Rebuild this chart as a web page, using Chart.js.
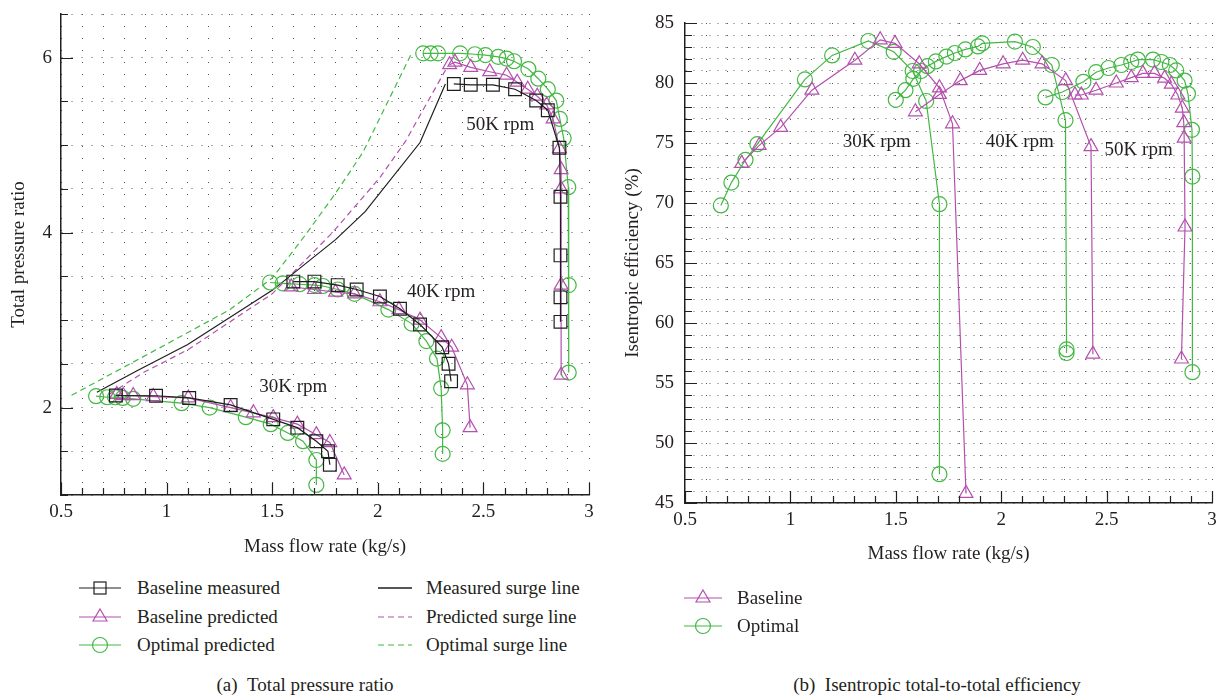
<!DOCTYPE html>
<html>
<head>
<meta charset="utf-8">
<script src="https://cdn.jsdelivr.net/npm/chart.js@4.4.1/dist/chart.umd.min.js"></script>
<style>
  body { margin: 0; background: #fff; }
  #page { position: relative; width: 1224px; height: 697px; overflow: hidden;
          font-family: "Liberation Serif", "DejaVu Serif", serif; color: #231f20; }
  #pr { position: absolute; left: 0; top: 0; }
  #eff { position: absolute; left: 610px; top: 0; }
  .row { position: absolute; height: 30px; line-height: 30px; font-size: 19px; white-space: nowrap; }
  .row svg { position: absolute; top: 0; }
  .cap { position: absolute; font-size: 19px; white-space: nowrap; transform: translate(-50%, -50%); }
</style>
</head>
<body>
<div id="page">
  <canvas id="pr" width="610" height="570"></canvas>
  <canvas id="eff" width="614" height="600"></canvas>

  <div class="row" style="left:79px;top:573px">
    <svg width="42" height="30"><line x1="0" y1="15" x2="42" y2="15" stroke="#1e1e1e" stroke-width="1.2"/><rect x="15" y="9" width="12" height="12" fill="none" stroke="#1e1e1e" stroke-width="1.2"/></svg>
    <span style="margin-left:58px">Baseline measured</span></div>
  <div class="row" style="left:79px;top:602px">
    <svg width="42" height="30"><line x1="0" y1="15" x2="42" y2="15" stroke="#b54fae" stroke-width="1.2"/><polygon points="21,7 28,19 14,19" fill="none" stroke="#b54fae" stroke-width="1.2"/></svg>
    <span style="margin-left:58px">Baseline predicted</span></div>
  <div class="row" style="left:79px;top:630px">
    <svg width="42" height="30"><line x1="0" y1="15" x2="42" y2="15" stroke="#43b843" stroke-width="1.2"/><circle cx="21" cy="15" r="7.5" fill="none" stroke="#43b843" stroke-width="1.2"/></svg>
    <span style="margin-left:58px">Optimal predicted</span></div>

  <div class="row" style="left:378px;top:573px">
    <svg width="34" height="30"><line x1="0" y1="15" x2="34" y2="15" stroke="#1e1e1e" stroke-width="1.4"/></svg>
    <span style="margin-left:48px">Measured surge line</span></div>
  <div class="row" style="left:378px;top:602px">
    <svg width="34" height="30"><line x1="0" y1="15" x2="34" y2="15" stroke="#b54fae" stroke-width="1.2" stroke-dasharray="6,4"/></svg>
    <span style="margin-left:48px">Predicted surge line</span></div>
  <div class="row" style="left:378px;top:630px">
    <svg width="34" height="30"><line x1="0" y1="15" x2="34" y2="15" stroke="#43b843" stroke-width="1.2" stroke-dasharray="6,4"/></svg>
    <span style="margin-left:48px">Optimal surge line</span></div>

  <div class="row" style="left:684px;top:583px">
    <svg width="38" height="30"><line x1="0" y1="15" x2="38" y2="15" stroke="#b54fae" stroke-width="1.2"/><polygon points="19,7 26,19 12,19" fill="none" stroke="#b54fae" stroke-width="1.2"/></svg>
    <span style="margin-left:53px">Baseline</span></div>
  <div class="row" style="left:684px;top:611px">
    <svg width="38" height="30"><line x1="0" y1="15" x2="38" y2="15" stroke="#43b843" stroke-width="1.2"/><circle cx="19" cy="15" r="7.5" fill="none" stroke="#43b843" stroke-width="1.2"/></svg>
    <span style="margin-left:53px">Optimal</span></div>

  <div class="cap" style="left:305px;top:685px">(a)&nbsp;&nbsp;Total pressure ratio</div>
  <div class="cap" style="left:937px;top:685px">(b)&nbsp;&nbsp;Isentropic total-to-total efficiency</div>
</div>

<script>
var FONT = '"Liberation Serif", "DejaVu Serif", serif';
var INK = '#231f20';
var BLACK = '#1e1e1e', MAGENTA = '#b54fae', GREEN = '#43b843';

// (a) total pressure ratio, points are [mass flow (kg/s), ratio]
var measured30 = [[0.76, 2.137], [0.95, 2.135], [1.107, 2.11], [1.303, 2.03], [1.505, 1.865],
  [1.619, 1.77], [1.709, 1.615], [1.764, 1.50], [1.773, 1.346]];
var measured40 = [[1.60, 3.44], [1.70, 3.44], [1.81, 3.40], [1.90, 3.35], [2.01, 3.27],
  [2.105, 3.13], [2.20, 2.95], [2.305, 2.69], [2.335, 2.50], [2.347, 2.30]];
var measured50 = [[2.36, 5.70], [2.44, 5.69], [2.545, 5.69], [2.65, 5.64], [2.75, 5.51],
  [2.805, 5.40], [2.86, 4.97], [2.865, 4.41], [2.865, 3.74], [2.865, 3.26], [2.865, 2.98]];

var predicted30 = [[0.764, 2.149], [0.795, 2.137], [0.842, 2.137], [0.937, 2.126], [1.103, 2.11],
  [1.303, 2.0], [1.411, 1.94], [1.505, 1.885], [1.619, 1.81], [1.709, 1.69], [1.773, 1.60], [1.841, 1.23]];
var predicted40 = [[1.59, 3.38], [1.70, 3.35], [1.80, 3.32], [1.89, 3.30], [2.01, 3.21],
  [2.10, 3.12], [2.20, 3.00], [2.30, 2.80], [2.35, 2.69], [2.424, 2.26], [2.437, 1.77]];
var predicted50 = [[2.34, 5.92], [2.365, 5.95], [2.44, 5.89], [2.53, 5.84], [2.61, 5.80], [2.66, 5.72],
  [2.71, 5.64], [2.755, 5.56], [2.80, 5.46], [2.83, 5.30], [2.86, 4.96], [2.868, 4.72],
  [2.868, 4.50], [2.868, 3.40], [2.868, 2.37]];

var optimal30 = [[0.666, 2.13], [0.719, 2.118], [0.756, 2.118], [0.792, 2.11], [0.842, 2.10],
  [1.071, 2.05], [1.204, 2.0], [1.375, 1.89], [1.493, 1.81], [1.574, 1.71], [1.646, 1.615],
  [1.709, 1.40], [1.709, 1.115]];
var optimal40 = [[1.49, 3.43], [1.55, 3.42], [1.63, 3.41], [1.70, 3.40], [1.74, 3.39], [1.81, 3.35],
  [1.89, 3.30], [2.05, 3.12], [2.16, 2.96], [2.23, 2.76], [2.28, 2.56], [2.30, 2.22],
  [2.307, 1.74], [2.307, 1.47]];
var optimal50 = [[2.215, 6.05], [2.25, 6.05], [2.285, 6.05], [2.39, 6.05], [2.46, 6.04], [2.51, 6.03],
  [2.57, 6.01], [2.61, 5.99], [2.645, 5.96], [2.713, 5.87], [2.76, 5.76], [2.805, 5.64],
  [2.845, 5.51], [2.862, 5.30], [2.88, 5.08], [2.902, 4.52], [2.904, 3.40], [2.904, 2.40]];

var surgeMeasured = [[0.67, 2.175], [0.86, 2.42], [1.1, 2.72], [1.5, 3.34], [1.80, 3.92],
  [1.94, 4.24], [2.20, 5.03], [2.32, 5.70]];
var surgePredicted = [[0.73, 2.155], [0.89, 2.40], [1.1, 2.66], [1.5, 3.30], [1.785, 4.0],
  [2.01, 4.63], [2.13, 5.04], [2.33, 5.90]];
var surgeOptimal = [[0.55, 2.14], [0.95, 2.66], [1.3, 3.12], [1.5, 3.48], [1.65, 3.95],
  [1.80, 4.45], [1.93, 4.92], [2.16, 6.05]];

// (b) isentropic efficiency, points are [mass flow (kg/s), %]
var effBase30 = [[0.769, 73.3], [0.852, 74.8], [0.954, 76.3], [1.102, 79.4], [1.306, 81.9],
  [1.426, 83.6], [1.496, 83.3], [1.611, 81.6], [1.707, 79.6], [1.769, 76.6], [1.833, 45.8]];
var effBase40 = [[1.593, 77.6], [1.707, 79.05], [1.806, 80.2], [1.898, 81.05], [2.009, 81.6],
  [2.102, 81.9], [2.194, 81.6], [2.306, 80.2], [2.426, 74.7], [2.435, 57.4]];
var effBase50 = [[2.35, 79.0], [2.38, 79.0], [2.45, 79.4], [2.546, 80.0], [2.617, 80.45],
  [2.672, 80.8], [2.727, 80.8], [2.775, 80.4], [2.807, 79.9], [2.838, 79.0], [2.859, 77.9],
  [2.866, 76.7], [2.868, 75.4], [2.872, 68.0], [2.855, 57.0]];

var effOpt30 = [[0.67, 69.8], [0.72, 71.7], [0.787, 73.6], [0.843, 74.9], [1.069, 80.3],
  [1.198, 82.3], [1.37, 83.5], [1.49, 82.6], [1.58, 81.0], [1.644, 78.5], [1.707, 69.9], [1.707, 47.4]];
var effOpt40 = [[1.50, 78.6], [1.546, 79.4], [1.583, 80.35], [1.62, 81.0], [1.65, 81.4], [1.69, 81.8],
  [1.74, 82.2], [1.78, 82.5], [1.83, 82.8], [1.89, 83.05], [1.91, 83.3], [2.065, 83.45],
  [2.15, 83.0], [2.24, 81.5], [2.305, 76.9], [2.31, 57.8], [2.31, 57.5]];
var effOpt50 = [[2.21, 78.8], [2.29, 79.25], [2.39, 80.1], [2.45, 80.9], [2.509, 81.25],
  [2.57, 81.5], [2.617, 81.75], [2.648, 81.95], [2.72, 81.95], [2.76, 81.75], [2.80, 81.5],
  [2.83, 81.05], [2.87, 80.2], [2.886, 79.1], [2.905, 76.1], [2.907, 72.2], [2.907, 55.9]];

var massTickLabels = [0.5, 1, 1.5, 2, 2.5, 3];
var ratioTickLabels = [2, 4, 6];
var effTickLabels = [45, 50, 55, 60, 65, 70, 75, 80, 85];
var speedNames = ['30K rpm', '40K rpm', '50K rpm'];

function xy(pts) {
  return pts.map(function (p) { return {x: p[0], y: p[1]}; });
}

function series(pts, color, shape, radius, dash) {
  return {
    data: xy(pts),
    showLine: true,
    borderColor: color,
    borderWidth: 1.2,
    borderDash: dash || [],
    pointStyle: shape || 'circle',
    pointRadius: shape ? radius : 0,
    pointBorderColor: color,
    pointBackgroundColor: 'rgba(0,0,0,0)',
    pointBorderWidth: 1.2,
    tension: 0
  };
}

function round1(v) { return Math.round(v * 10) / 10; }

function onlyLabels(list) {
  return function (v) { var r = round1(v); return list.indexOf(r) >= 0 ? String(r) : ''; };
}

// tick marks point into the plot, labelled ones are longer; also writes the speed names
var innerTicks = {
  id: 'innerTicks',
  afterDatasetsDraw: function (chart, args, o) {
    var ctx = chart.ctx, a = chart.chartArea, x = chart.scales.x, y = chart.scales.y;
    ctx.save();
    ctx.strokeStyle = INK;
    ctx.lineWidth = 1.2;
    ctx.beginPath();
    x.ticks.forEach(function (t) {
      var px = Math.round(x.getPixelForValue(t.value)) + 0.5;
      var len = massTickLabels.indexOf(round1(t.value)) >= 0 ? 12 : 7;
      ctx.moveTo(px, a.bottom);
      ctx.lineTo(px, a.bottom - len);
    });
    y.ticks.forEach(function (t) {
      var py = Math.round(y.getPixelForValue(t.value)) + 0.5;
      var len = o.yMajor.indexOf(round1(t.value)) >= 0 ? 12 : 7;
      ctx.moveTo(a.left, py);
      ctx.lineTo(a.left + len, py);
    });
    ctx.stroke();
    ctx.font = '19px ' + FONT;
    ctx.fillStyle = INK;
    ctx.textAlign = 'center';
    ctx.textBaseline = 'middle';
    o.notes.forEach(function (n, i) {
      ctx.fillText(speedNames[i], x.getPixelForValue(n[0]), y.getPixelForValue(n[1]));
    });
    ctx.restore();
  }
};

function scaleX(height, titlePad) {
  return {
    type: 'linear', min: 0.5, max: 3,
    afterFit: function (s) { s.height = height; s.paddingLeft = 0; s.paddingRight = 0; },
    ticks: { stepSize: 0.1, autoSkip: false, maxRotation: 0, padding: 6, color: INK,
             font: {family: FONT, size: 19}, callback: onlyLabels(massTickLabels) },
    grid: { drawTicks: false, color: '#555', lineWidth: 1 },
    border: { color: INK, width: 1.5, dash: [1, 11] },
    title: { display: true, text: 'Mass flow rate (kg/s)', color: INK,
             font: {family: FONT, size: 19}, padding: {top: 0, bottom: titlePad} }
  };
}

function scaleY(min, max, step, labels, title, width, pad, dash, gridColor) {
  return {
    type: 'linear', min: min, max: max,
    afterFit: function (s) { s.width = width; s.paddingTop = 0; s.paddingBottom = 0; },
    ticks: { stepSize: step, autoSkip: false, padding: pad, color: INK,
             font: {family: FONT, size: 19}, callback: onlyLabels(labels) },
    grid: { drawTicks: false, color: gridColor, lineWidth: 1 },
    border: { color: INK, width: 1.5, dash: dash },
    title: { display: true, text: title, color: INK, font: {family: FONT, size: 19}, padding: 0 }
  };
}

new Chart(document.getElementById('pr'), {
  type: 'scatter',
  data: {
    datasets: [
      series(measured30, BLACK, 'rect', 9), series(measured40, BLACK, 'rect', 9), series(measured50, BLACK, 'rect', 9),
      series(predicted30, MAGENTA, 'triangle', 8), series(predicted40, MAGENTA, 'triangle', 8), series(predicted50, MAGENTA, 'triangle', 8),
      series(optimal30, GREEN, 'circle', 7.5), series(optimal40, GREEN, 'circle', 7.5), series(optimal50, GREEN, 'circle', 7.5),
      series(surgeMeasured, BLACK), series(surgePredicted, MAGENTA, null, 0, [6, 4]), series(surgeOptimal, GREEN, null, 0, [6, 4])
    ]
  },
  options: {
    responsive: false,
    animation: false,
    layout: { padding: {left: 8, top: 14, right: 21, bottom: 0} },
    plugins: {
      legend: {display: false},
      tooltip: {enabled: false},
      innerTicks: { yMajor: ratioTickLabels, notes: [[1.60, 2.232], [2.30, 3.318], [2.58, 5.234]] }
    },
    scales: {
      x: scaleX(75, 12),
      y: scaleY(1, 6.5, 0.5, ratioTickLabels, 'Total pressure ratio', 53, 9, [1, 9], '#555')
    }
  },
  plugins: [innerTicks]
});

new Chart(document.getElementById('eff'), {
  type: 'scatter',
  data: {
    datasets: [
      series(effBase30, MAGENTA, 'triangle', 8), series(effBase40, MAGENTA, 'triangle', 8), series(effBase50, MAGENTA, 'triangle', 8),
      series(effOpt30, GREEN, 'circle', 7.5), series(effOpt40, GREEN, 'circle', 7.5), series(effOpt50, GREEN, 'circle', 7.5)
    ]
  },
  options: {
    responsive: false,
    animation: false,
    layout: { padding: {left: 12, top: 23, right: 12, bottom: 0} },
    plugins: {
      legend: {display: false},
      tooltip: {enabled: false},
      innerTicks: { yMajor: effTickLabels, notes: [[1.41, 75.06], [2.088, 75.06], [2.652, 74.4]] }
    },
    scales: {
      x: scaleX(97, 35),
      y: scaleY(45, 85, 1, effTickLabels, 'Isentropic efficiency (%)', 63, 11, [1, 7], '#666')
    }
  },
  plugins: [innerTicks]
});
</script>
</body>
</html>
